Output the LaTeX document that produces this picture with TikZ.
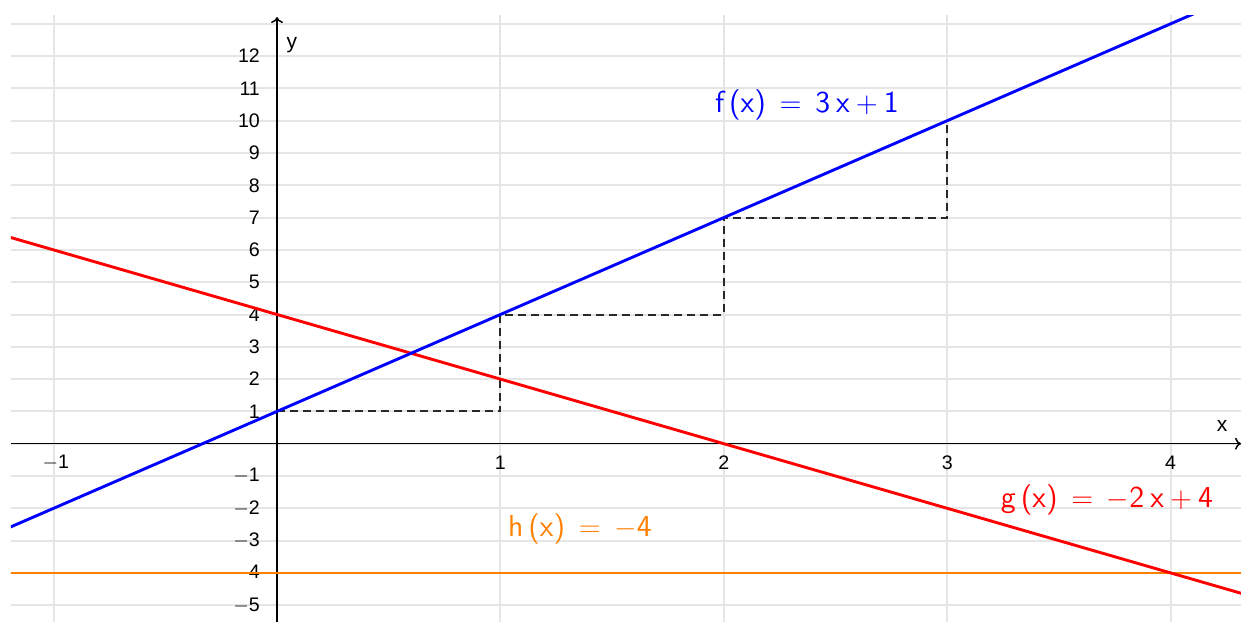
\documentclass[tikz,border=0pt]{standalone}
\usepackage{fontspec}
\newfontfamily\tickfont{Liberation Sans}
\usetikzlibrary{arrows.meta}
\definecolor{gridgray}{RGB}{229,229,229}
\definecolor{fblue}{RGB}{0,0,255}
\definecolor{gred}{RGB}{255,0,0}
\definecolor{horange}{RGB}{255,127,0}
\definecolor{stairgray}{RGB}{40,40,40}
\newcommand{\eqsp}{\hspace{0.45em}}
\newcommand{\opsp}{\hspace{0.2em}}
\tikzset{
  gridline/.style={draw=gridgray, line width=1pt},
  axisline/.style={draw=black, line width=0.75pt, -{To[length=3pt,width=6pt]}},
  graphline/.style={line width=1.45pt},
  stairs/.style={draw=stairgray, line width=1pt, dash pattern=on 4pt off 2.5pt},
  xtick/.style={font=\tickfont\fontsize{9.8}{11}\selectfont, anchor=center},
  ytick/.style={font=\tickfont\fontsize{9.8}{11}\selectfont, anchor=east},
  funclabel/.style={font=\sffamily\fontsize{15.2}{17}\selectfont, anchor=center},
}
\begin{document}
\begin{tikzpicture}[x=111.7pt, y=16.15pt]
\useasboundingbox (-1.240,-5.520) rectangle (4.315,13.737);
\fill[white] (-1.240,-5.520) rectangle (4.315,13.737);
% grid
\foreach \k in {-5,...,13} \draw[gridline] (-1.191,\k) -- (4.315,\k);
\foreach \k in {-1,1,2,3,4} \draw[gridline] (\k,-5.52) -- (\k,13.27);
% axes
\coordinate (xl) at (-1.191,0);
\coordinate (xr) at (4.315,0);
\coordinate (yb) at (0,-5.52);
\coordinate (yt) at (0,13.21);
\draw[axisline] (xl) -- (xr);
\draw[axisline] (yb) -- (yt);
\node[font=\tickfont\fontsize{10.5}{12}\selectfont] (xname) at (4.23,0.55) {x};
\node[font=\tickfont\fontsize{10.5}{12}\selectfont] (yname) at (0.067,12.35) {y};
% ticks labels
\node[xtick] (tm1) at (-0.99,-0.6) {$-$1};
\foreach \k in {1,2,3,4} \node[xtick] (tx\k) at (\k,-0.6) {\k};
\foreach \k in {1,...,12} \node[ytick] (ty\k) at (-0.045,\k) {\k};
\foreach \k in {1,...,5} \node[ytick] (tn\k) at (-0.045,-\k) {$-$\k};
% staircase
\coordinate (p0) at (0,1);
\coordinate (p1) at (1,4);
\coordinate (p2) at (2,7);
\coordinate (p3) at (3,10);
\draw[stairs] (p0) -| (p1) -| (p2) -| (p3);
% graphs
\begin{scope}
\clip (-1.191,-5.52) rectangle (4.315,13.27);
\draw[graphline, horange, line width=1pt] (-1.3,-4) -- (4.4,-4);
\draw[graphline, gred] (-1.3,6.6) -- (4.4,-4.8);
\draw[graphline, fblue] (-1.3,-2.9) -- (4.4,14.2);
\end{scope}
% function labels
\node[funclabel, text=fblue] (flab) at (2.372,10.49) {f\,(x)\eqsp$=$\eqsp3\opsp x\opsp$+$\opsp1};
\node[funclabel, text=gred] (glab) at (3.715,-1.755) {g\,(x)\eqsp$=$\eqsp$-$2\opsp x\opsp$+$\opsp4};
\node[funclabel, text=horange] (hlab) at (1.356,-2.64) {h\,(x)\eqsp$=$\eqsp$-$4};
\end{tikzpicture}
\end{document}
